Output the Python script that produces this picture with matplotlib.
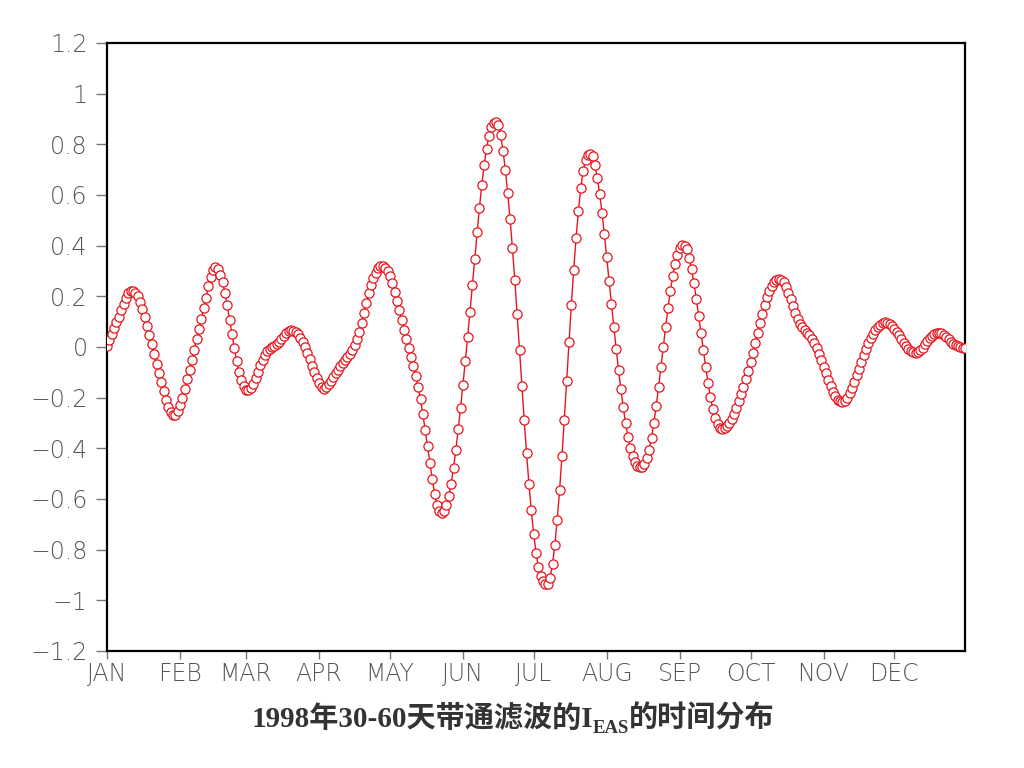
import numpy as np
import matplotlib
matplotlib.use("Agg")
import matplotlib.pyplot as plt

# daily 30-60 day band-pass filtered I_EAS, 1998
ieas_1998 = [
    0.005, 0.028, 0.05, 0.074, 0.098, 0.12, 0.145, 0.17, 0.195, 0.212,
    0.22, 0.222, 0.215, 0.2, 0.178, 0.15, 0.118, 0.083, 0.047, 0.01,
    -0.028, -0.066, -0.104, -0.14, -0.175, -0.208, -0.236, -0.258, -0.27, -0.268,
    -0.252, -0.23, -0.2, -0.165, -0.128, -0.09, -0.05, -0.01, 0.03, 0.07,
    0.11, 0.152, 0.195, 0.24, 0.278, 0.305, 0.316, 0.306, 0.286, 0.256,
    0.215, 0.165, 0.108, 0.05, -0.005, -0.055, -0.097, -0.132, -0.155, -0.168,
    -0.17, -0.162, -0.145, -0.122, -0.097, -0.072, -0.05, -0.031, -0.017, -0.007,
    0.0, 0.005, 0.011, 0.02, 0.031, 0.043, 0.055, 0.063, 0.067, 0.065,
    0.06, 0.05, 0.037, 0.02, 0.0, -0.022, -0.047, -0.075, -0.1, -0.123,
    -0.143, -0.157, -0.164, -0.158, -0.147, -0.133, -0.118, -0.103, -0.089, -0.076,
    -0.064, -0.052, -0.04, -0.027, -0.012, 0.006, 0.03, 0.06, 0.095, 0.135,
    0.175, 0.212, 0.245, 0.272, 0.294, 0.31, 0.319, 0.321, 0.313, 0.3,
    0.279, 0.252, 0.218, 0.182, 0.146, 0.108, 0.069, 0.031, -0.005, -0.04,
    -0.076, -0.115, -0.158, -0.207, -0.265, -0.328, -0.39, -0.457, -0.523, -0.58,
    -0.622, -0.648, -0.657, -0.648, -0.625, -0.59, -0.54, -0.478, -0.405, -0.325,
    -0.24, -0.15, -0.057, 0.04, 0.14, 0.243, 0.348, 0.452, 0.55, 0.64,
    0.718, 0.782, 0.832, 0.867, 0.884, 0.888, 0.875, 0.835, 0.775, 0.7,
    0.608, 0.505, 0.39, 0.265, 0.13, -0.01, -0.152, -0.29, -0.42, -0.54,
    -0.645, -0.737, -0.812, -0.868, -0.905, -0.925, -0.935, -0.935, -0.91, -0.858,
    -0.78, -0.682, -0.565, -0.432, -0.287, -0.135, 0.018, 0.167, 0.305, 0.43,
    0.538, 0.628, 0.695, 0.738, 0.758, 0.763, 0.752, 0.718, 0.668, 0.605,
    0.53, 0.445, 0.355, 0.262, 0.17, 0.08, -0.007, -0.09, -0.166, -0.238,
    -0.3, -0.354, -0.398, -0.432, -0.455, -0.469, -0.475, -0.472, -0.46, -0.438,
    -0.405, -0.358, -0.3, -0.232, -0.158, -0.08, 0.0, 0.08, 0.155, 0.222,
    0.28, 0.328, 0.365, 0.39, 0.401, 0.4, 0.385, 0.352, 0.307, 0.252,
    0.19, 0.124, 0.056, -0.013, -0.08, -0.142, -0.198, -0.245, -0.28, -0.305,
    -0.318, -0.322, -0.32, -0.312, -0.3, -0.284, -0.264, -0.24, -0.213, -0.185,
    -0.156, -0.126, -0.094, -0.06, -0.024, 0.014, 0.054, 0.093, 0.13, 0.165,
    0.196, 0.222, 0.242, 0.256, 0.264, 0.268, 0.265, 0.255, 0.238, 0.215,
    0.188, 0.16, 0.133, 0.11, 0.092, 0.078, 0.067, 0.057, 0.046, 0.033,
    0.016, -0.004, -0.027, -0.052, -0.078, -0.104, -0.13, -0.155, -0.177, -0.195,
    -0.208, -0.215, -0.217, -0.212, -0.2, -0.183, -0.162, -0.138, -0.112, -0.085,
    -0.058, -0.032, -0.008, 0.014, 0.034, 0.052, 0.067, 0.079, 0.088, 0.094,
    0.097, 0.096, 0.092, 0.084, 0.073, 0.06, 0.046, 0.031, 0.016, 0.003,
    -0.008, -0.016, -0.021, -0.022, -0.019, -0.012, -0.002, 0.01, 0.022, 0.034,
    0.044, 0.051, 0.055, 0.056, 0.054, 0.048, 0.04, 0.03, 0.02, 0.012,
    0.006, 0.002, 0.0, -0.002, -0.004,
]

month_labels = ['JAN', 'FEB', 'MAR', 'APR', 'MAY', 'JUN',
                'JUL', 'AUG', 'SEP', 'OCT', 'NOV', 'DEC']
month_start = [0, 31, 59, 90, 120, 151, 181, 212, 243, 273, 304, 334]

y_ticks = [1.2, 1.0, 0.8, 0.6, 0.4, 0.2, 0.0, -0.2, -0.4, -0.6, -0.8, -1.0, -1.2]
y_labels = ['1.2', '1', '0.8', '0.6', '0.4', '0.2', '0',
            '\u22120.2', '\u22120.4', '\u22120.6', '\u22120.8', '\u22121', '\u22121.2']

title_main = '1998年30-60天带通滤波的I'
title_sub = 'EAS'
title_tail = '的时间分布'

days = np.arange(len(ieas_1998))

fig = plt.figure(figsize=(10.24, 7.68), dpi=100)
ax = fig.add_axes([107 / 1024, 1 - 651 / 768, 858 / 1024, 608 / 768])

ax.plot(days, ieas_1998, color='#e8141c', lw=1.0, marker='o', ms=6.6,
        mfc='white', mec='#e8141c', mew=0.9, zorder=3)

ax.set_xlim(0, 364)
ax.set_ylim(-1.2, 1.2)

ax.set_xticks(month_start)
ax.set_xticklabels(month_labels)
ax.set_yticks(y_ticks)
ax.set_yticklabels(y_labels)

for lab in ax.get_xticklabels() + ax.get_yticklabels():
    lab.set_fontfamily('DejaVu Sans')
    lab.set_fontsize(17)
    lab.set_color('#555555')
    lab.set_fontweight('light')

ax.tick_params(axis='y', direction='out', length=8, width=1, color='#777777', pad=6)
ax.tick_params(axis='x', direction='out', length=6, width=1, color='#777777', pad=2)
for sp in ax.spines.values():
    sp.set_linewidth(1.6)
    sp.set_color('black')

# title with subscript, built from pieces so the CJK fallback works
fam = ['Liberation Serif', 'Noto Sans CJK SC']
renderer = fig.canvas.get_renderer()
base_y = 1 - 727 / 768
t1 = fig.text(0, base_y, title_main, fontsize=21, fontweight='bold',
              family=fam, color='#333333', va='baseline')
t2 = fig.text(0, base_y - 6 / 768, title_sub, fontsize=13.5, fontweight='bold',
              family=fam, color='#333333', va='baseline')
t3 = fig.text(0, base_y, title_tail, fontsize=21, fontweight='bold',
              family=fam, color='#333333', va='baseline')
w1 = t1.get_window_extent(renderer).width
w2 = t2.get_window_extent(renderer).width
w3 = t3.get_window_extent(renderer).width
x0 = 513 - (w1 + w2 + w3) / 2
t1.set_x(x0 / 1024)
t2.set_x((x0 + w1) / 1024)
t3.set_x((x0 + w1 + w2) / 1024)

fig.savefig('out.png', dpi=100)
